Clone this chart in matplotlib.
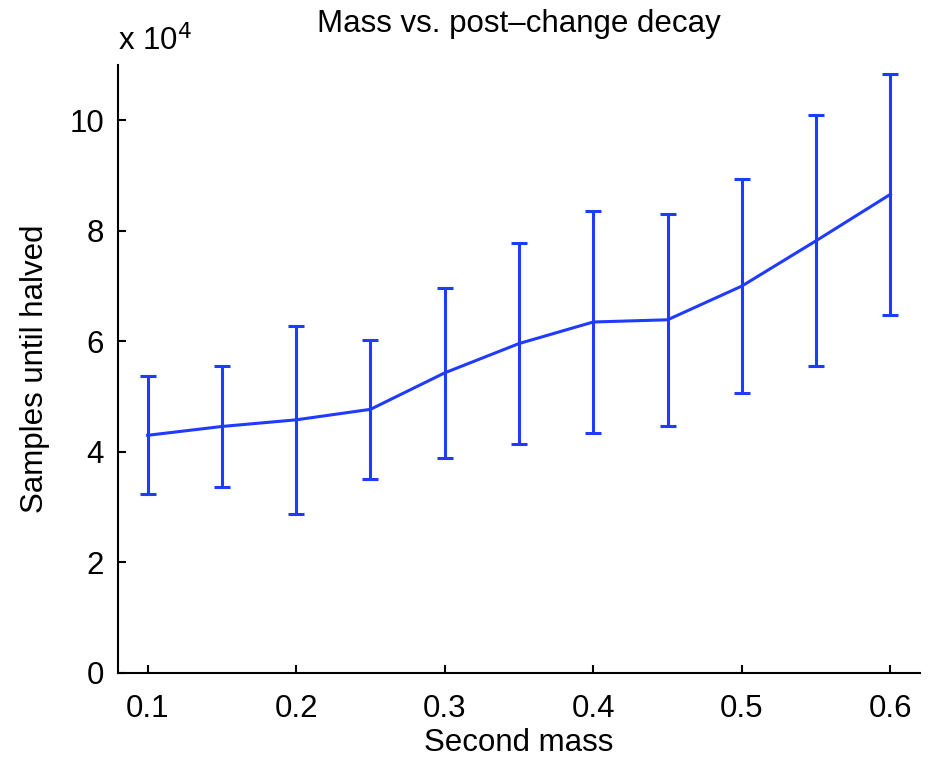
import matplotlib
matplotlib.use("Agg")
import matplotlib.pyplot as plt
from matplotlib.ticker import FuncFormatter

# Second mass vs. samples until the signal is halved (mean and error)
mass = [0.10, 0.15, 0.20, 0.25, 0.30, 0.35, 0.40, 0.45, 0.50, 0.55, 0.60]
samples = [43000, 44600, 45800, 47700, 54300, 59600, 63500, 63900, 70000, 78200, 86600]
error = [10700, 11000, 17000, 12600, 15400, 18200, 20000, 19200, 19300, 22700, 21800]

plt.rcParams["font.family"] = ["Liberation Sans", "DejaVu Sans"]

fig = plt.figure(figsize=(9.36, 7.6), dpi=100)
ax = fig.add_axes([0.126, 0.1145, 0.857, 0.80])

ax.errorbar(mass, samples, yerr=error, color="#1f3bff", linewidth=2.2,
            elinewidth=2.2, capsize=5.8, capthick=2.2)

ax.set_xlim(0.08, 0.62)
ax.set_ylim(0, 110000)
ax.set_xticks([0.1, 0.2, 0.3, 0.4, 0.5, 0.6])
ax.set_yticks([0, 20000, 40000, 60000, 80000, 100000])
ax.yaxis.set_major_formatter(FuncFormatter(lambda v, p: f"{v / 1e4:g}"))

for side in ["top", "right"]:
    ax.spines[side].set_visible(False)
for side in ["left", "bottom"]:
    ax.spines[side].set_linewidth(1.5)
ax.tick_params(direction="in", length=6, width=1.5, labelsize=22.5, pad=10)
ax.tick_params(axis="x", pad=15)

ax.set_xlabel("Second mass", fontsize=22.5, labelpad=3)
ax.set_ylabel("Samples until halved", fontsize=22.5, labelpad=14)
ax.set_title("Mass vs. post\u2013change decay", fontsize=22.5, pad=24)
ax.text(0.0, 1.012, "x 10$^4$", transform=ax.transAxes, fontsize=22.5,
        ha="left", va="bottom")

fig.savefig("out.png", dpi=100)
